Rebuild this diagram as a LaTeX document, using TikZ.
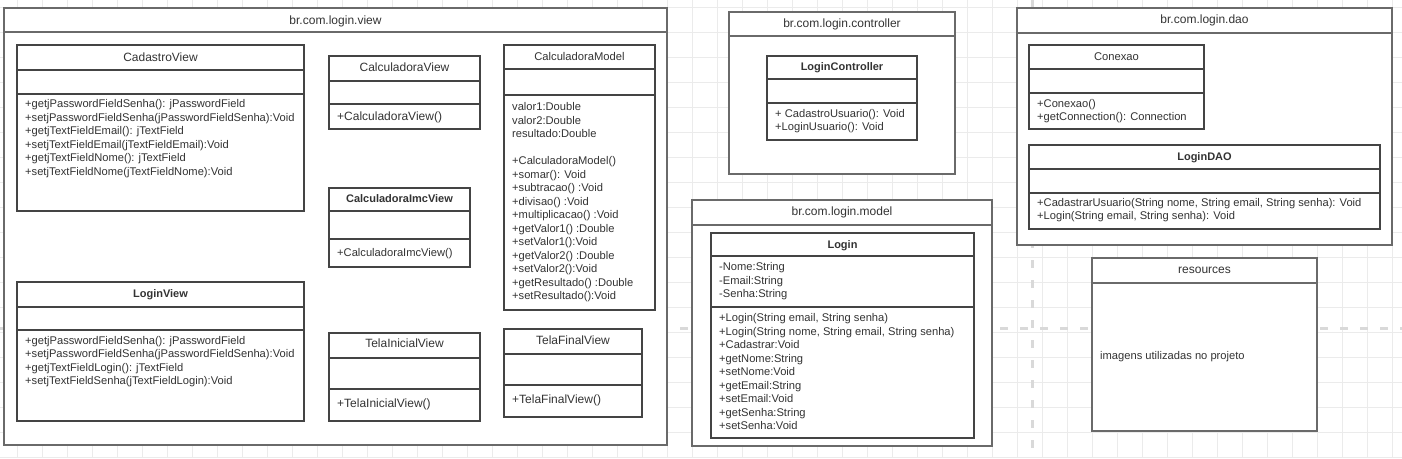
\documentclass[tikz,border=0pt]{standalone}
\usepackage{fontspec}
\setmainfont{Liberation Sans}
\definecolor{txtc}{HTML}{333333}
\definecolor{pkgc}{HTML}{6A6A6A}
\definecolor{clsc}{HTML}{444444}
\definecolor{gridc}{HTML}{EBEBEB}
\definecolor{pagec}{HTML}{D9D9D9}
\tikzset{
  x=1pt, y=-1pt,
  gridline/.style={draw=gridc, line width=0.8pt},
  pagebreak/.style={draw=pagec, line width=3pt, dash pattern=on 8pt off 12pt},
  pkg/.style={draw=pkgc, line width=2pt, fill=white, inner sep=0pt, outer sep=0pt, anchor=north west},
  pkgline/.style={draw=pkgc, line width=2pt},
  cls/.style={draw=clsc, line width=1.1pt, fill=white, inner sep=0pt, outer sep=0pt, anchor=north west},
  clsline/.style={draw=clsc, line width=1.1pt},
  ttl/.style={anchor=base, inner sep=0pt, text=txtc, font=\fontsize{12}{14}\selectfont},
  sttl/.style={anchor=base, inner sep=0pt, text=txtc, font=\fontsize{11.2}{13}\selectfont},
  bttl/.style={anchor=base, inner sep=0pt, text=txtc, font=\bfseries\fontsize{11}{13}\selectfont},
  mth/.style={anchor=north west, inner sep=0pt, align=left, text=txtc, font=\fontsize{11.15}{13.5}\selectfont},
  bmth/.style={anchor=north west, inner sep=0pt, align=left, text=txtc, font=\fontsize{12}{13.5}\selectfont},
}
% name, x1, y1, x2, y2
\newcommand{\pkgbox}[5]{\node[pkg, minimum width=#4-#2, minimum height=#5-#3] (#1) at (#2,#3) {};}
\newcommand{\clsbox}[5]{\node[cls, minimum width=#4-#2, minimum height=#5-#3] (#1) at (#2,#3) {};}
\newcommand{\pdiv}[2]{\draw[pkgline] (#1.west |- 0,#2) -- (#1.east |- 0,#2);}
\newcommand{\cdiv}[2]{\draw[clsline] (#1.west |- 0,#2) -- (#1.east |- 0,#2);}
\begin{document}
\begin{tikzpicture}
\useasboundingbox (0,0) rectangle (1402,458);
\fill[white] (0,0) rectangle (1402,458);
% canvas grid
\foreach \gx in {17.5,42.5,...,1402} {\draw[gridline] (\gx,0) -- (\gx,458);}
\foreach \gy in {7.5,32.5,...,458} {\draw[gridline] (0,\gy) -- (1402,\gy);}
% page breaks
\draw[pagebreak] (0,328) -- (1402,328);
\draw[pagebreak] (1032,0) -- (1032,458);

% ===== package view =====
\pkgbox{pview}{4}{8}{667}{445}
\pdiv{pview}{32}
\node[ttl] (pview-t) at (335.5,24.3) {br.com.login.view};

\clsbox{cad}{17}{45}{304}{211}
\cdiv{cad}{70}\cdiv{cad}{94}
\node[ttl] (cad-t) at (160.5,61) {CadastroView};
\node[mth] (cad-m) at (25,98) {\strut+getjPasswordFieldSenha(): jPasswordField\\
+setjPasswordFieldSenha(jPasswordFieldSenha):Void\\
+getjTextFieldEmail(): jTextField\\
+setjTextFieldEmail(jTextFieldEmail):Void\\
+getjTextFieldNome(): jTextField\\
+setjTextFieldNome(jTextFieldNome):Void};

\clsbox{logv}{17}{282}{304}{421}
\cdiv{logv}{307}\cdiv{logv}{330}
\node[bttl] (logv-t) at (160.5,297.5) {LoginView};
\node[mth] (logv-m) at (25,334.5) {\strut+getjPasswordFieldSenha(): jPasswordField\\
+setjPasswordFieldSenha(jPasswordFieldSenha):Void\\
+getjTextFieldLogin(): jTextField\\
+setjTextFieldSenha(jTextFieldLogin):Void};

\clsbox{calv}{329}{56}{480}{129}
\cdiv{calv}{81}\cdiv{calv}{104}
\node[ttl] (calv-t) at (404.5,71) {CalculadoraView};
\node[bmth] (calv-m) at (337,111) {\strut+CalculadoraView()};

\clsbox{imc}{329}{188}{470}{267}
\cdiv{imc}{211}\cdiv{imc}{239}
\node[bttl] (imc-t) at (399.5,202.3) {CalculadoraImcView};
\node[mth] (imc-m) at (337,247) {\strut+CalculadoraImcView()};

\clsbox{tini}{329}{333}{480}{421}
\cdiv{tini}{358}\cdiv{tini}{389}
\node[ttl] (tini-t) at (404.5,347.6) {TelaInicialView};
\node[bmth] (tini-m) at (337,397.5) {\strut+TelaInicialView()};

\clsbox{tfin}{504}{329}{642}{417}
\cdiv{tfin}{354}\cdiv{tfin}{385}
\node[ttl] (tfin-t) at (573,344.3) {TelaFinalView};
\node[bmth] (tfin-m) at (512,393.5) {\strut+TelaFinalView()};

\clsbox{cmod}{504}{45}{655}{310}
\cdiv{cmod}{69}\cdiv{cmod}{95}
\node[sttl] (cmod-t) at (579.5,60.3) {CalculadoraModel};
\node[mth] (cmod-m) at (512,101) {\strut valor1:Double\\
valor2:Double\\
resultado:Double\\
\strut\\
+CalculadoraModel()\\
+somar(): Void\\
+subtracao() :Void\\
+divisao() :Void\\
+multiplicacao() :Void\\
+getValor1() :Double\\
+setValor1():Void\\
+getValor2() :Double\\
+setValor2():Void\\
+getResultado() :Double\\
+setResultado():Void};

% ===== package controller =====
\pkgbox{pctrl}{729}{12}{955}{174}
\pdiv{pctrl}{36}
\node[ttl] (pctrl-t) at (842,27.8) {br.com.login.controller};

\clsbox{lctrl}{767}{56}{917}{140}
\cdiv{lctrl}{79}\cdiv{lctrl}{103}
\node[bttl] (lctrl-t) at (842,70.7) {LoginController};
\node[mth] (lctrl-m) at (775,107.8) {\strut+ CadastroUsuario(): Void\\
+LoginUsuario(): Void};

% ===== package model =====
\pkgbox{pmodel}{692}{200}{992}{446}
\pdiv{pmodel}{225}
\node[ttl] (pmodel-t) at (842,215.3) {br.com.login.model};

\clsbox{login}{711}{233}{974}{438}
\cdiv{login}{256}\cdiv{login}{307}
\node[bttl] (login-t) at (842.5,248) {Login};
\node[mth] (login-a) at (719,261.2) {\strut-Nome:String\\
-Email:String\\
-Senha:String};
\node[mth] (login-m) at (719,312.2) {\strut+Login(String email, String senha)\\
+Login(String nome, String email, String senha)\\
+Cadastrar:Void\\
+getNome:String\\
+setNome:Void\\
+getEmail:String\\
+setEmail:Void\\
+getSenha:String\\
+setSenha:Void};

% ===== package dao =====
\pkgbox{pdao}{1017}{8}{1392}{245}
\pdiv{pdao}{33}
\node[ttl] (pdao-t) at (1204.5,23.3) {br.com.login.dao};

\clsbox{conex}{1029}{45}{1204}{129}
\cdiv{conex}{69}\cdiv{conex}{93}
\node[sttl] (conex-t) at (1116.5,60) {Conexao};
\node[mth] (conex-m) at (1037,97.8) {\strut+Conexao()\\
+getConnection(): Connection};

\clsbox{ldao}{1029}{145}{1380}{229}
\cdiv{ldao}{169}\cdiv{ldao}{193}
\node[bttl] (ldao-t) at (1204.5,160) {LoginDAO};
\node[mth] (ldao-m) at (1037,196.8) {\strut+CadastrarUsuario(String nome, String email, String senha): Void\\
+Login(String email, String senha): Void};

% ===== resources =====
\pkgbox{res}{1092}{258}{1317}{431}
\pdiv{res}{283}
\node[ttl] (res-t) at (1204.5,273.3) {resources};
\node[mth] (res-m) at (1100,349.5) {\strut imagens utilizadas no projeto};
\end{tikzpicture}
\end{document}
